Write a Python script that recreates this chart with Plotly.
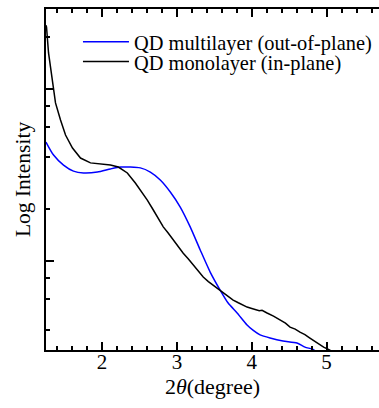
import plotly.graph_objects as go

# QD monolayer (in-plane) - black
mono_x = [1.25, 1.257, 1.284, 1.337, 1.377, 1.444, 1.511, 1.604, 1.711, 1.844, 1.977,
          2.111, 2.217, 2.337, 2.444, 2.511, 2.604, 2.684, 2.75, 2.817, 2.88, 2.951,
          3.02, 3.084, 3.15, 3.217, 3.28, 3.351, 3.42, 3.484, 3.55, 3.617, 3.68, 3.751,
          3.82, 3.88, 3.937, 4.0, 4.071, 4.10, 4.137, 4.17, 4.204, 4.29, 4.377, 4.45,
          4.511, 4.58, 4.644, 4.71, 4.777, 4.84, 4.911, 4.96, 5.017, 5.05]
mono_y = [235, 229, 162, 113, 83, 66, 54, 45.4, 39.7, 37.2, 36.7,
          36.2, 35.2, 32.5, 28.4, 25.9, 22.6, 19.8, 17.6, 15.8, 14.6, 13.3,
          12.0, 11.1, 10.3, 9.49, 8.8, 8.07, 7.6, 7.25, 6.85, 6.51, 6.2, 5.93,
          5.72, 5.55, 5.40, 5.30, 5.19, 5.14, 5.17, 5.05, 4.99, 4.78, 4.54, 4.36,
          4.13, 4.02, 3.86, 3.74, 3.57, 3.42, 3.25, 3.16, 3.08, 3.02]

# QD multilayer (out-of-plane) - blue
multi_x = [1.25, 1.257, 1.351, 1.484, 1.617, 1.751, 1.937, 2.111, 2.244, 2.377,
           2.511, 2.644, 2.777, 2.911, 3.044, 3.177, 3.311, 3.444, 3.577, 3.684,
           3.804, 3.937, 4.02, 4.111, 4.244, 4.417, 4.604, 4.711, 4.804, 4.85]
multi_y = [49.2, 48.5, 41.3, 36.1, 33.3, 32.5, 32.9, 34.3, 35.2, 35.2,
           34.8, 32.9, 29.6, 25.2, 20.6, 15.8, 11.6, 8.63, 6.78, 5.70,
           4.99, 4.25, 3.95, 3.72, 3.57, 3.43, 3.34, 3.16, 3.08, 3.0]

x_major = [2, 3, 4, 5]
x_minor = [1.4, 1.6, 1.8, 2.2, 2.4, 2.6, 2.8, 3.2, 3.4, 3.6, 3.8,
           4.2, 4.4, 4.6, 4.8, 5.2, 5.4, 5.6]
y_major = [10, 100]
y_minor = [4, 6, 8, 20, 40, 60, 80, 200]

FONT = "Liberation Serif, Times New Roman, serif"

fig = go.Figure()
fig.add_trace(go.Scatter(x=multi_x, y=multi_y, mode="lines", name="QD multilayer (out-of-plane)",
                         line=dict(color="#0000ff", width=1.5, shape="spline", smoothing=0.6),
                         legend="legend"))
fig.add_trace(go.Scatter(x=mono_x, y=mono_y, mode="lines", name="QD monolayer (in-plane)",
                         line=dict(color="#000000", width=1.5), legend="legend2"))

axis_common = dict(showline=True, linecolor="black", linewidth=1.5, ticks="inside",
                   tickcolor="black", tickwidth=1.5, ticklen=8, showgrid=False, zeroline=False)

fig.update_layout(
    width=379, height=408,
    margin=dict(l=46, r=0, t=9, b=58, pad=0),
    paper_bgcolor="white", plot_bgcolor="white",
    font=dict(family=FONT, color="black", size=21),
    xaxis=dict(range=[1.25, 5.70], tickmode="array", tickvals=x_major,
               ticktext=[str(v) for v in x_major], mirror="ticks",
               minor=dict(tickmode="array", tickvals=x_minor, ticklen=4, ticks="inside",
                          tickcolor="black", tickwidth=1.5),
               tickfont=dict(size=21, family=FONT), ticklabelstandoff=-8,
               title=dict(text="2<i>θ</i>(degree)", font=dict(size=22, family=FONT), standoff=0),
               **axis_common),
    yaxis=dict(type="log", range=[0.483, 2.465], tickmode="array", tickvals=y_major,
               showticklabels=False, mirror=False,
               minor=dict(tickmode="array", tickvals=y_minor, ticklen=4, ticks="inside",
                          tickcolor="black", tickwidth=1.5),
               title=dict(text="Log Intensity", font=dict(size=21.5, family=FONT), standoff=8),
               **axis_common),
    legend=dict(x=0.096, y=0.903, xanchor="left", yanchor="middle", bgcolor="rgba(0,0,0,0)",
                borderwidth=0, font=dict(size=20.4, family=FONT), itemwidth=46),
    legend2=dict(x=0.096, y=0.845, xanchor="left", yanchor="middle", bgcolor="rgba(0,0,0,0)",
                 borderwidth=0, font=dict(size=20.4, family=FONT), itemwidth=46),
    showlegend=True,
)

fig.write_html("out.html")
